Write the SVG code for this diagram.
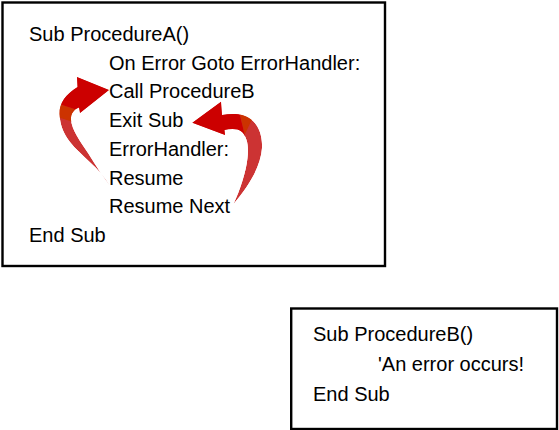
<svg xmlns="http://www.w3.org/2000/svg" width="559" height="430" viewBox="0 0 559 430">
<style>
.box{fill:#ffffff;stroke:#000000;stroke-width:2.4}
.code{font-family:"Liberation Sans",Arial,sans-serif;font-size:20px;fill:#000000}
.red{fill:#cc0000}
.orange{fill:#cc3300}
.pink{fill:#cc3333}
</style>
<defs>
<path id="arrowLeft" d="M 109 90 L 77 77 L 77.5 87 C 66 94, 59 103, 59.5 114 C 60 126, 64 134, 70 142 C 80 155, 100 168, 110 186 C 104 178, 96 166, 88 153 C 80 141, 72 130, 71 120 C 70.5 113, 75 109, 79 107.5 L 80 113 Z"/>
<path id="arrowRight" d="M 192.3 122.7 L 221 101.7 L 222 115 C 232 113, 245 113, 253 121 C 259 127, 262.5 136, 262 148 C 261 165, 250 185, 233.5 204 C 240 190, 246 172, 247.5 158 C 249 146, 247 137, 242 132 C 237 128, 230 129, 224.5 130 L 225 135 Z"/>
<clipPath id="clipLeft"><use href="#arrowLeft"/></clipPath>
<clipPath id="clipRight"><use href="#arrowRight"/></clipPath>
</defs>
<rect x="0" y="0" width="559" height="430" fill="#ffffff"/>
<g id="procA">
<rect class="box" x="2.5" y="2.5" width="382.5" height="263.5"/>
<text class="code" x="29" y="41">Sub ProcedureA()</text>
<text class="code" x="109" y="69.7">On Error Goto ErrorHandler:</text>
<text class="code" x="109" y="98.4">Call ProcedureB</text>
<text class="code" x="109" y="127.1">Exit Sub</text>
<text class="code" x="109" y="155.8">ErrorHandler:</text>
<text class="code" x="109" y="184.5">Resume</text>
<text class="code" x="109" y="213.2">Resume Next</text>
<text class="code" x="29" y="241.9">End Sub</text>
</g>
<g id="procB">
<rect class="box" x="291.2" y="308.5" width="265.8" height="120.5"/>
<text class="code" x="313" y="341">Sub ProcedureB()</text>
<text class="code" x="378" y="371">'An error occurs!</text>
<text class="code" x="313" y="401">End Sub</text>
</g>
<g id="connectors">
<g id="arrow-resume" clip-path="url(#clipLeft)">
<use href="#arrowLeft" class="pink"/>
<polygon class="orange" points="40,98 76,109.5 80,124.3 40,111.5"/>
<polygon class="red" points="40,60 130,60 130,125 80,125 76,109.5 40,98"/>
</g>
<g id="arrow-resume-next" clip-path="url(#clipRight)">
<use href="#arrowRight" class="pink"/>
<polygon class="orange" points="235,95 263.6,95 244.8,134.5"/>
<polygon class="red" points="180,95 235,95 245,136 180,140"/>
</g>
</g>
</svg>
